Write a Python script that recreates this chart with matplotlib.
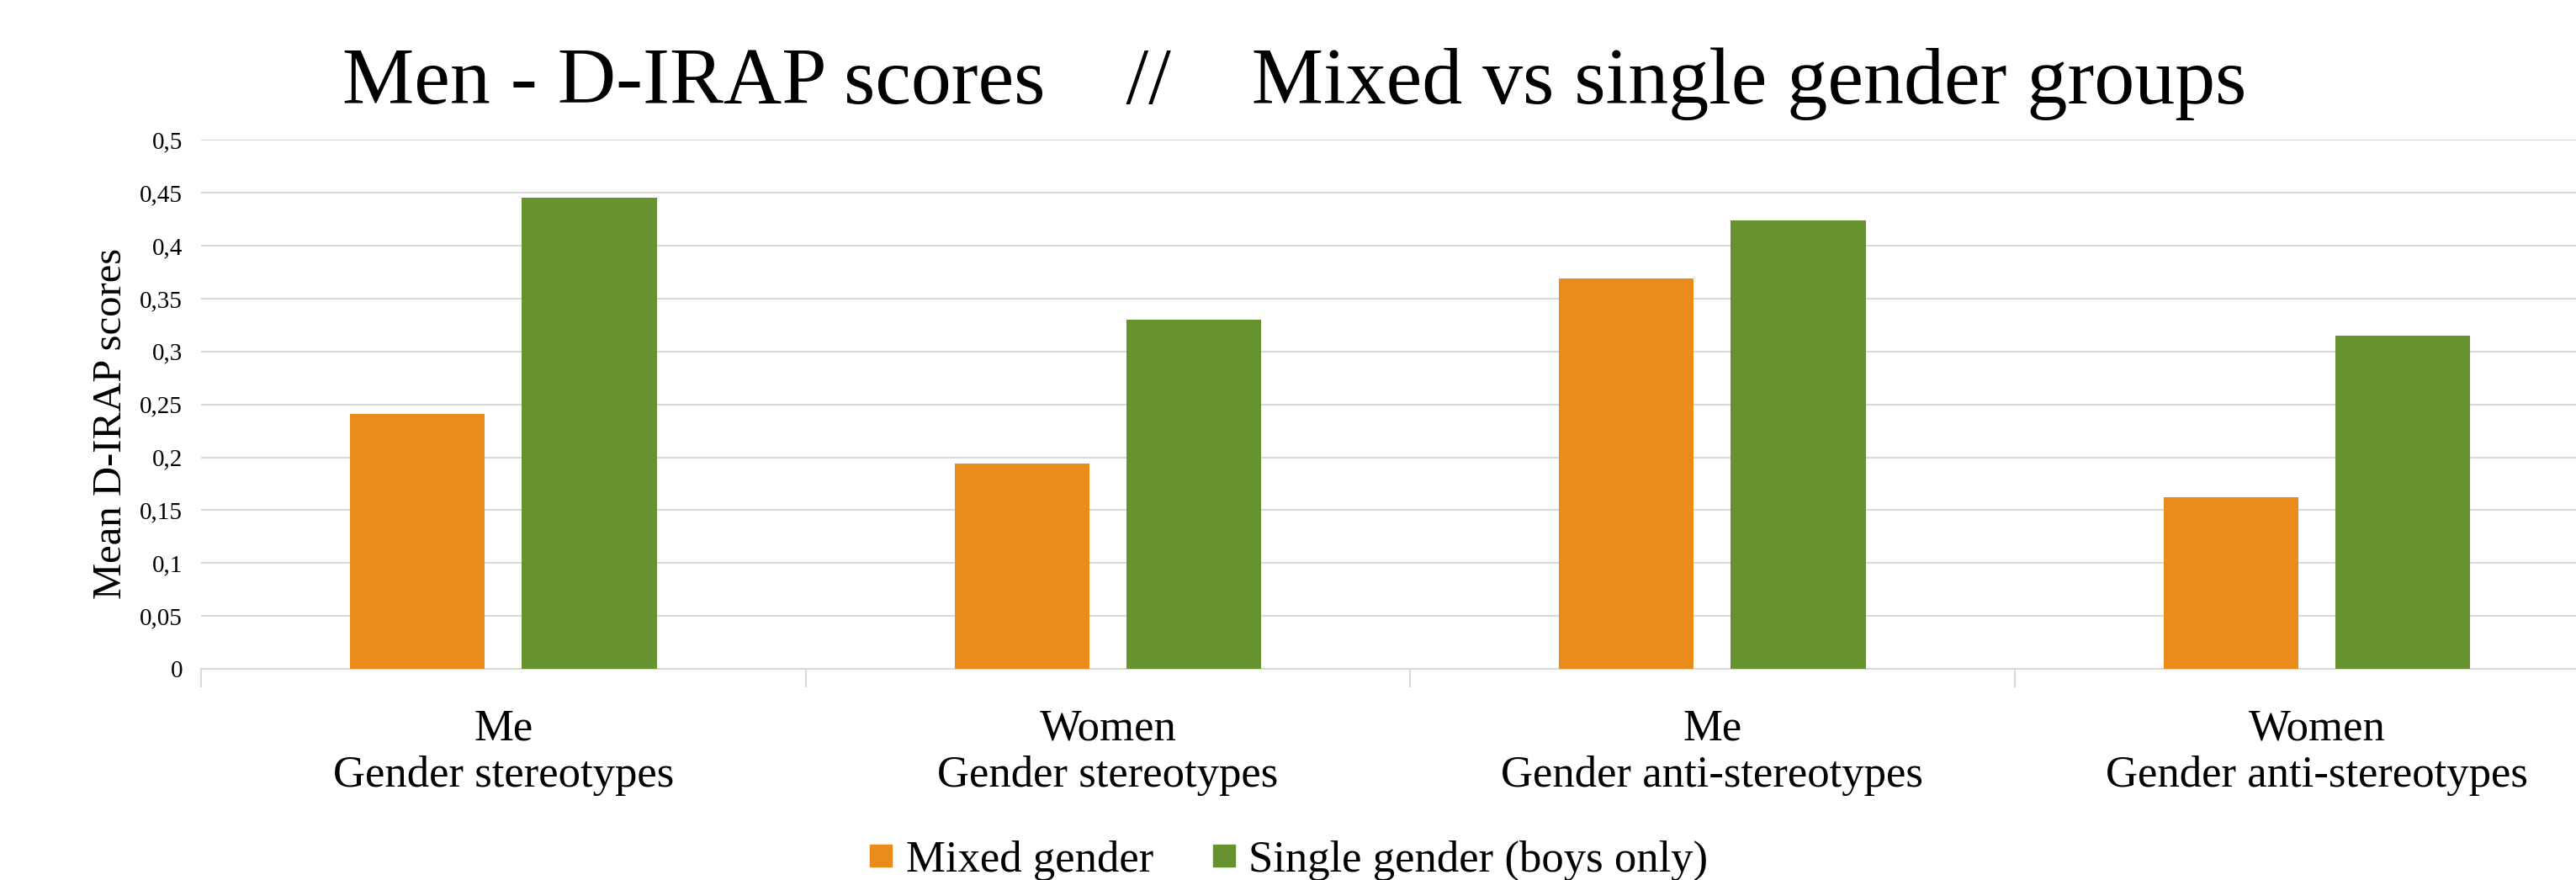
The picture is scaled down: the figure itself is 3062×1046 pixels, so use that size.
import matplotlib
matplotlib.use("Agg")
import matplotlib.pyplot as plt
import numpy as np
from matplotlib.lines import Line2D

plt.rcParams['font.family'] = ['Liberation Serif', 'DejaVu Serif']

# Data
categories = ["Me\nGender stereotypes", "Women\nGender stereotypes",
              "Me\nGender anti-stereotypes", "Women\nGender anti-stereotypes"]
series_names = ["Mixed gender", "Single gender (boys only)"]
mixed_gender = [0.241, 0.194, 0.369, 0.162]
single_gender = [0.445, 0.330, 0.424, 0.315]
y_ticks = [0, 0.05, 0.1, 0.15, 0.2, 0.25, 0.3, 0.35, 0.4, 0.45, 0.5]
y_tick_labels = ["0", "0,05", "0,1", "0,15", "0,2", "0,25", "0,3", "0,35", "0,4", "0,45", "0,5"]

orange = "#E98C1C"
green = "#679230"
grid_gray = "#D9D9D9"

fig = plt.figure(figsize=(30.62, 10.46), dpi=100)
ax = fig.add_axes([0.0781, 0.24, 0.9386, 0.601])

x = np.arange(len(categories))
width = 0.223
offset = 0.142
ax.bar(x - offset, mixed_gender, width, color=orange, zorder=3, label=series_names[0])
ax.bar(x + offset, single_gender, width, color=green, zorder=3, label=series_names[1])

ax.set_xlim(-0.5, len(categories) - 0.5)
ax.set_ylim(0, 0.5)

# Gridlines
ax.set_yticks(y_ticks)
ax.set_yticklabels(y_tick_labels, fontsize=21)
ax.yaxis.grid(True, color=grid_gray, linewidth=1.5, zorder=0)
ax.set_axisbelow(True)
ax.tick_params(axis='y', length=0, pad=16)

# Category labels centred, boundary ticks between categories
ax.set_xticks(x)
ax.set_xticklabels(categories, fontsize=38, linespacing=1.2)
ax.tick_params(axis='x', which='major', length=0, pad=34)
ax.set_xticks(np.arange(-0.5, len(categories)), minor=True)
ax.tick_params(axis='x', which='minor', length=16, width=1.5, color=grid_gray)

for side in ['top', 'right', 'left']:
    ax.spines[side].set_visible(False)
ax.spines['bottom'].set_color(grid_gray)
ax.spines['bottom'].set_linewidth(1.5)

ax.set_ylabel("Mean D-IRAP scores", fontsize=35)
ax.yaxis.set_label_coords(-0.0296, 0.464)

fig.text(0.5026, 0.8824, "Men - D-IRAP scores    //    Mixed vs single gender groups",
         fontsize=69, ha='center', va='baseline')

handles = [Line2D([], [], marker='s', ls='', color=orange, markersize=19),
           Line2D([], [], marker='s', ls='', color=green, markersize=19)]
fig.legend(handles, series_names, loc='center', bbox_to_anchor=(0.5, 0.022),
           ncol=2, frameon=False, fontsize=38, handlelength=0.6,
           handletextpad=0.25, columnspacing=1.3, borderpad=0)

fig.savefig("out.png", dpi=100)
